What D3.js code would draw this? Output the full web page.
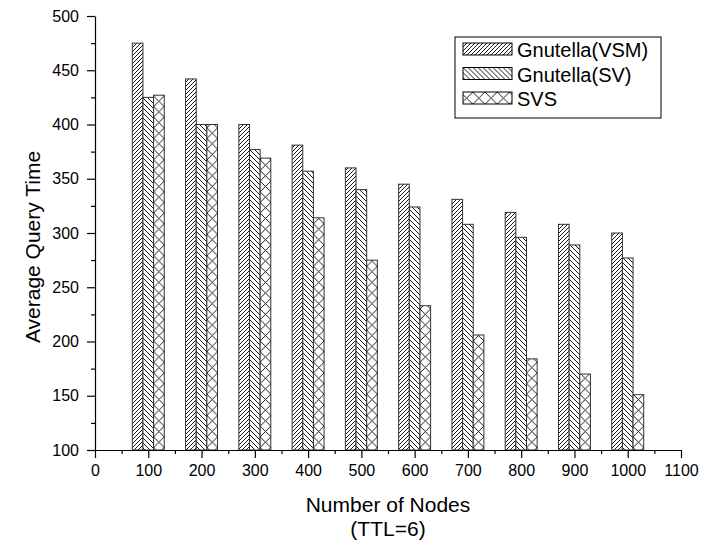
<!DOCTYPE html>
<html>
<head>
<meta charset="utf-8">
<script src="https://cdn.jsdelivr.net/npm/d3@7"></script>
<style>
  body { margin: 0; background: #fff; }
  text { font-family: "Liberation Sans", Arial, sans-serif; fill: #000; }
</style>
</head>
<body>
<div id="chart"></div>
<script>
// data
const nodes = [100, 200, 300, 400, 500, 600, 700, 800, 900, 1000];
const seriesNames = ["Gnutella(VSM)", "Gnutella(SV)", "SVS"];
const vsm = [475, 442, 400, 381, 360, 345, 331, 319, 308, 300];
const sv = [425, 400, 377, 357, 340, 324, 308, 296, 289, 277];
const svs = [427, 400, 369, 314, 275, 233, 206, 184, 170, 151];
const xTicks = d3.range(0, 1101, 100);
const yTicks = d3.range(100, 501, 50);

const width = 703, height = 542;
const svg = d3.select("#chart").append("svg")
    .attr("width", width)
    .attr("height", height);

const x = d3.scaleLinear().domain([0, 1100]).range([95, 681]);
const y = d3.scaleLinear().domain([100, 500]).range([450, 16]);
const barW = 20; // in x units
const barPx = x(barW) - x(0);

// hatch patterns
const defs = svg.append("defs");
function hatch(id, w, h, paths, offX) {
    const p = defs.append("pattern")
        .attr("id", id)
        .attr("patternUnits", "userSpaceOnUse")
        .attr("x", offX || 0)
        .attr("width", w)
        .attr("height", h);
    p.append("rect").attr("width", w).attr("height", h).attr("fill", "#fff");
    paths.forEach(d => p.append("path").attr("d", d)
        .attr("stroke", "#000").attr("stroke-width", 0.9).attr("fill", "none"));
}
hatch("p-vsm", 4, 4, ["M-1,1 L1,-1 M0,4 L4,0 M3,5 L5,3"]);
hatch("p-sv", 5, 5, ["M-1,4 L1,6 M0,0 L5,5 M4,-1 L6,1"]);
// cross hatch: one X across each bar
const cross = s => [`M0,0 L${s},${s} M${s},0 L0,${s}`];
hatch("p-svs-legend", 12.25, 12.25, cross(12.25), 463);
nodes.forEach((n, i) => hatch("p-svs-" + i, barPx, barPx, cross(barPx), x(n + 10)));

const fills = ["url(#p-vsm)", "url(#p-sv)"];
const fillFor = (k, i) => k < 2 ? fills[k] : `url(#p-svs-${i})`;

const data = nodes.map((n, i) => ({ n, i, vals: [vsm[i], sv[i], svs[i]] }));

// bars
const groups = svg.append("g").selectAll("g")
    .data(data)
    .enter().append("g");

groups.selectAll("rect")
    .data(d => d.vals.map((v, k) => ({ n: d.n, i: d.i, v, k })))
    .enter().append("rect")
    .attr("x", d => x(d.n - 30 + d.k * barW))
    .attr("width", barPx)
    .attr("y", d => y(d.v))
    .attr("height", d => y(100) - y(d.v))
    .attr("fill", d => fillFor(d.k, d.i))
    .attr("stroke", "#333")
    .attr("stroke-width", 1);

// axes
svg.append("g")
    .attr("transform", `translate(0,${y(100)})`)
    .call(d3.axisBottom(x).tickValues(xTicks).tickFormat(d3.format("d"))
        .tickSize(8).tickPadding(7).tickSizeOuter(0));
svg.append("g")
    .attr("transform", `translate(0,${y(100)})`)
    .call(d3.axisBottom(x).tickValues(d3.range(50, 1100, 100)).tickSize(4).tickFormat("").tickSizeOuter(0))
    .select(".domain").remove();

svg.append("g")
    .attr("transform", `translate(${x(0)},0)`)
    .call(d3.axisLeft(y).tickValues(yTicks).tickFormat(d3.format("d"))
        .tickSize(8).tickPadding(8).tickSizeOuter(0));
svg.append("g")
    .attr("transform", `translate(${x(0)},0)`)
    .call(d3.axisLeft(y).tickValues(d3.range(125, 500, 50)).tickSize(4).tickFormat("").tickSizeOuter(0))
    .select(".domain").remove();

svg.selectAll(".tick text")
    .style("font-family", "Liberation Sans, Arial, sans-serif")
    .style("font-size", "16px")
    .attr("fill", "#000");
svg.selectAll(".domain, .tick line").attr("stroke", "#000").attr("stroke-width", 1.2);

// axis titles
svg.append("text")
    .attr("transform", "translate(40,247) rotate(-90)")
    .attr("text-anchor", "middle")
    .style("font-size", "21px")
    .text("Average Query Time");
svg.append("text")
    .attr("x", x(550)).attr("y", 512)
    .attr("text-anchor", "middle")
    .style("font-size", "21px")
    .text("Number of Nodes");
svg.append("text")
    .attr("x", x(550)).attr("y", 536)
    .attr("text-anchor", "middle")
    .style("font-size", "21px")
    .text("(TTL=6)");

// legend
const legend = svg.append("g").attr("transform", "translate(455,37)");
legend.append("rect")
    .attr("width", 206).attr("height", 81)
    .attr("fill", "#fff").attr("stroke", "#000").attr("stroke-width", 1);
seriesNames.forEach((name, k) => {
    const row = legend.append("g").attr("transform", `translate(8,${6 + k * 24.5})`);
    row.append("rect")
        .attr("width", 49).attr("height", 12)
        .attr("fill", k < 2 ? fills[k] : "url(#p-svs-legend)")
        .attr("stroke", "#000").attr("stroke-width", 1);
    row.append("text")
        .attr("x", 54).attr("y", 14)
        .style("font-size", "20px")
        .text(name);
});
</script>
</body>
</html>
